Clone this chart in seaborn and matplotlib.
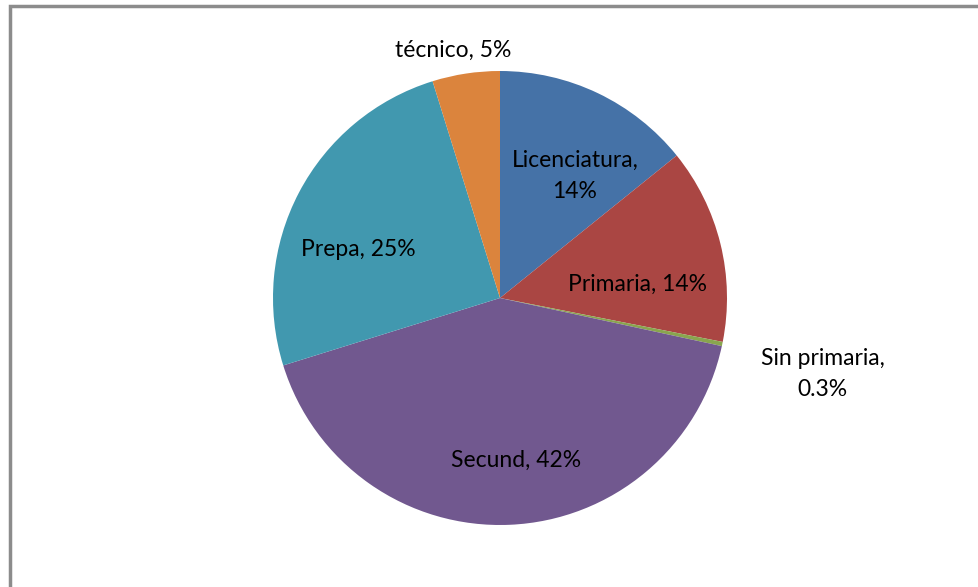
import numpy as np
import matplotlib
matplotlib.use("Agg")
import matplotlib.pyplot as plt
import seaborn as sns
from matplotlib.patches import Rectangle

sns.set_style("white")
plt.rcParams['font.family'] = ['Lato', 'DejaVu Sans']

# data
categories = ['Licenciatura', 'Primaria', 'Sin primaria', 'Secund', 'Prepa', 'técnico']
values = [14.2, 13.9, 0.3, 41.8, 25.0, 4.8]
pct_labels = ['14%', '14%', '0.3%', '42%', '25%', '5%']
colors = ['#4572A7', '#AA4643', '#89A54E', '#71588F', '#4198AF', '#DB843D']

# label placement (fraction of radius, angular shift in degrees, line break)
label_dist = [0.63, 0.61, 1.46, 0.72, 0.66, 1.11]
label_shift = [-6, -8, -1.5, 3, 9, 2]
label_break = [True, False, True, False, False, False]

fig = plt.figure(figsize=(9.79, 5.87), dpi=100)
fig.patches.append(Rectangle((10 / 979, -0.5), 2, 0.5 + (587 - 6) / 587, transform=fig.transFigure,
                             fill=False, edgecolor='#8c8c8c', linewidth=2.5, clip_on=False))

ax = fig.add_axes([273 / 979, 62 / 587, 454 / 979, 454 / 587])
wedges, _ = ax.pie(values, colors=colors, startangle=90, counterclock=False,
                   wedgeprops=dict(linewidth=0))
ax.set_xlim(-1, 1)
ax.set_ylim(-1, 1)
ax.set_aspect('equal')

for w, cat, pct, d, s, br in zip(wedges, categories, pct_labels, label_dist, label_shift, label_break):
    mid = np.deg2rad((w.theta1 + w.theta2) / 2 + s)
    txt = f"{cat},\n{pct}" if br else f"{cat}, {pct}"
    ax.text(d * np.cos(mid), d * np.sin(mid), txt, ha='center', va='center',
            fontsize=16.5, color='black', linespacing=1.6)

fig.savefig('out.png', dpi=100)
